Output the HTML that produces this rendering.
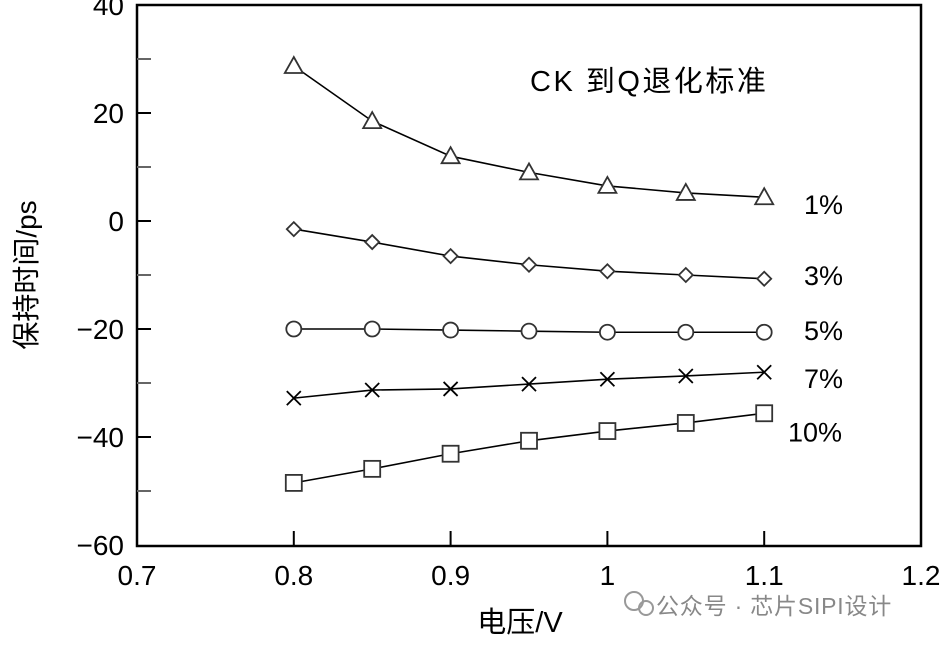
<!DOCTYPE html>
<html><head><meta charset="utf-8">
<style>
body{margin:0;background:#fff;width:945px;height:643px;overflow:hidden}
svg text{font-family:"Liberation Sans","Noto Sans CJK SC",sans-serif;fill:#000}
</style></head>
<body>
<svg id="chart" width="945" height="643" viewBox="0 0 945 643" xmlns="http://www.w3.org/2000/svg">
<rect x="137" y="5" width="784" height="541" fill="none" stroke="#000" stroke-width="2.5"/>
<g id="ticks"></g>
<g id="series"></g>
<text x="530" y="91" font-size="29" letter-spacing="2.5">CK 到Q退化标准</text>
<text x="520" y="632" font-size="29" text-anchor="middle">电压/V</text>
<text transform="translate(36,275) rotate(-90)" font-size="28" text-anchor="middle">保持时间/ps</text>
<g>
<circle cx="634" cy="601" r="9" fill="none" stroke="#999" stroke-width="2"/>
<circle cx="646" cy="608" r="7" fill="none" stroke="#999" stroke-width="2"/>
<text x="656" y="614" font-size="23" letter-spacing="0.8" style="fill:#888">公众号 · 芯片SIPI设计</text>
</g>
</svg>
<script>
const xValues=[0.8,0.85,0.9,0.95,1.0,1.05,1.1];
const s1=[28.7,18.5,12,9,6.5,5.2,4.4];
const s3=[-1.5,-3.9,-6.5,-8.1,-9.3,-10,-10.7];
const s5=[-20,-20,-20.2,-20.4,-20.6,-20.6,-20.6];
const s7=[-32.8,-31.3,-31.1,-30.2,-29.3,-28.7,-28];
const s10=[-48.5,-45.9,-43.1,-40.7,-38.9,-37.4,-35.6];
const seriesLabels=["1%","3%","5%","7%","10%"];
const xTicks=[0.7,0.8,0.9,1,1.1,1.2];
const xTickLabels=["0.7","0.8","0.9","1","1.1","1.2"];
const yTicks=[40,20,0,-20,-40,-60];
const yTickLabels=["40","20","0","-20","-40","-60"];
const yMinor=[30,10,-10,-30,-50];
const NS="http://www.w3.org/2000/svg";
const X=v=>137+(v-0.7)*1568;
const Y=v=>221-v*5.4;
function mk(tag,attrs,parent){const e=document.createElementNS(NS,tag);for(const k in attrs)e.setAttribute(k,attrs[k]);parent.appendChild(e);return e;}
const tg=document.getElementById('ticks');
xTicks.forEach((v,i)=>{
  if(i>0&&i<xTicks.length-1){const l=mk('line',{x1:X(v),x2:X(v),y1:546,y2:531,stroke:'#000','stroke-width':2},tg);
  
  }
  const t=mk('text',{x:X(v),y:585,'font-size':28,'text-anchor':'middle'},tg);t.textContent=xTickLabels[i];
  
  
});
yTicks.forEach((v,i)=>{
  if(i>0&&i<yTicks.length-1){const l=mk('line',{x1:137,x2:151,y1:Y(v),y2:Y(v),stroke:'#000','stroke-width':2},tg);
  
  }
  const t=mk('text',{x:124,y:Y(v)+10,'font-size':28,'text-anchor':'end'},tg);t.textContent=yTickLabels[i].replace('-','\u2212');
  
  
});
yMinor.forEach(v=>{const l=mk('line',{x1:137,x2:151,y1:Y(v),y2:Y(v),stroke:'#666','stroke-width':2},tg);
  
  });
const sg=document.getElementById('series');
const all=[s1,s3,s5,s7,s10];
const kinds=['tri','dia','circ','x','sq'];
const labelY=[4.4,-8.7,-18.9,-27.8,-37.7];
all.forEach((s,si)=>{
  const g=mk('g',{},sg);
  
  
  const p=mk('polyline',{points:s.map((v,i)=>X(xValues[i])+','+Y(v)).join(' '),fill:'none',stroke:'#000','stroke-width':1.6},g);
  s.forEach((v,i)=>{
    const cx=X(xValues[i]),cy=Y(v);let m;
    const st={fill:'#fff',stroke:'#333','stroke-width':1.8};
    if(kinds[si]==='tri')m=mk('polygon',Object.assign({points:`${cx},${cy-9} ${cx-9},${cy+7} ${cx+9},${cy+7}`},st),g);
    else if(kinds[si]==='dia')m=mk('polygon',Object.assign({points:`${cx},${cy-7} ${cx+7},${cy} ${cx},${cy+7} ${cx-7},${cy}`},st),g);
    else if(kinds[si]==='circ')m=mk('circle',Object.assign({cx:cx,cy:cy,r:7.5},st),g);
    else if(kinds[si]==='sq')m=mk('rect',Object.assign({x:cx-8,y:cy-8,width:16,height:16},st),g);
    else m=mk('path',{d:`M${cx-7},${cy-7}L${cx+7},${cy+7}M${cx-7},${cy+7}L${cx+7},${cy-7}`,stroke:'#000','stroke-width':1.8},g);
    
    
  });
  const t=mk('text',{x:si===4?788:804,y:Y(labelY[si])+17,'font-size':27},g);t.textContent=seriesLabels[si];
  
  
});
</script>
</body></html>
